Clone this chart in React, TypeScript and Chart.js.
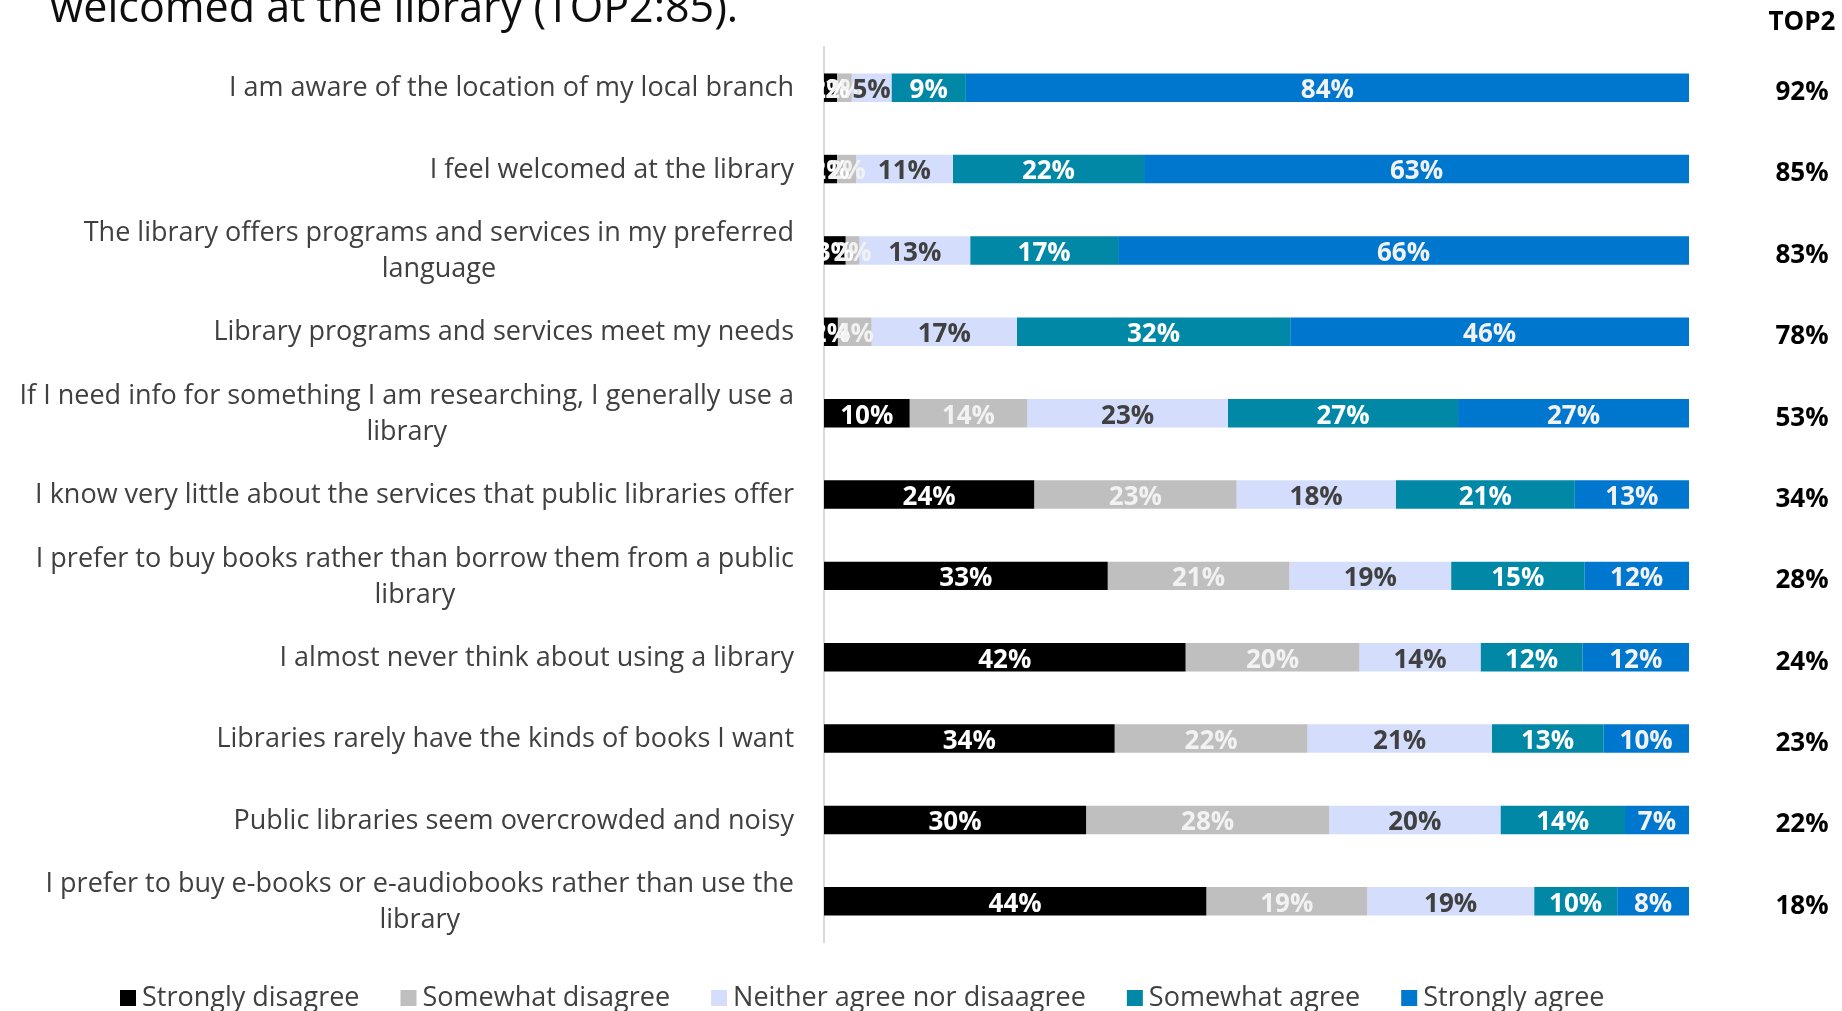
import React, { useEffect, useRef } from "react";
import { Chart, registerables } from "chart.js";

Chart.register(...registerables);

const titleText = "welcomed at the library (TOP2:85).";

const categories: string[][] = [
  ["I am aware of the location of my local branch"],
  ["I feel welcomed at the library"],
  ["The library offers programs and services in my preferred", "language"],
  ["Library programs and services meet my needs"],
  ["If I need info for something I am researching, I generally use a", "library"],
  ["I know very little about the services that public libraries offer"],
  ["I prefer to buy books rather than borrow them from a public", "library"],
  ["I almost never think about using a library"],
  ["Libraries rarely have the kinds of books I want"],
  ["Public libraries seem overcrowded and noisy"],
  ["I prefer to buy e-books or e-audiobooks rather than use the", "library"],
];

const seriesNames = [
  "Strongly disagree",
  "Somewhat disagree",
  "Neither agree nor disaagree",
  "Somewhat agree",
  "Strongly agree",
];

const stronglyDisagree = [1.5, 1.5, 2.5, 1.6, 9.9, 24.3, 32.8, 41.8, 33.6, 30.3, 44.2];
const somewhatDisagree = [1.7, 2.2, 1.6, 3.9, 13.6, 23.4, 21.0, 20.1, 22.3, 28.1, 18.6];
const neither = [4.6, 11.2, 12.8, 16.8, 23.2, 18.4, 18.7, 14.0, 21.3, 19.8, 19.3];
const somewhatAgree = [8.6, 22.1, 17.1, 31.6, 26.6, 20.7, 15.4, 11.8, 12.9, 14.4, 9.6];
const stronglyAgree = [83.6, 63.0, 66.0, 46.1, 26.7, 13.2, 12.1, 12.3, 9.9, 7.4, 8.3];

const top2Header = "TOP2";
const top2Values = [92, 85, 83, 78, 53, 34, 28, 24, 23, 22, 18];

const seriesColors = ["#000000", "#BFBFBF", "#D4DEFC", "#0088A6", "#0077CE"];
const labelColors = ["#FFFFFF", "#F2F2F2", "#404040", "#FFFFFF", "#F2F2F2"];

const FONT = '"Open Sans", "Noto Sans", sans-serif';

const overlayPlugin = {
  id: "overlay",
  afterDatasetsDraw(chart: any) {
    const ctx = chart.ctx as CanvasRenderingContext2D;
    ctx.save();
    ctx.font = `bold 26px ${FONT}`;
    ctx.textAlign = "center";
    ctx.textBaseline = "middle";
    chart.data.datasets.forEach((ds: any, di: number) => {
      const meta = chart.getDatasetMeta(di);
      meta.data.forEach((el: any, i: number) => {
        const v = ds.data[i];
        const cx = (el.x + el.base) / 2;
        ctx.fillStyle = labelColors[di];
        ctx.fillText(`${Math.round(v)}%`, cx, el.y + 3);
      });
    });
    ctx.restore();
  },
  afterDraw(chart: any) {
    const ctx = chart.ctx as CanvasRenderingContext2D;
    const yScale = chart.scales.y;
    const area = chart.chartArea;
    ctx.save();

    // title (second line, top cut off)
    ctx.font = `43px ${FONT}`;
    ctx.fillStyle = "#0D0D0D";
    ctx.textAlign = "left";
    ctx.textBaseline = "alphabetic";
    ctx.fillText(titleText, 50, 22);

    // category labels
    ctx.font = `27px ${FONT}`;
    ctx.fillStyle = "#404040";
    ctx.textBaseline = "middle";
    ctx.textAlign = "center";
    const rightEdge = area.left - 30;
    const lineH = 36;
    categories.forEach((lines, i) => {
      const cy = yScale.getPixelForValue(i);
      const w = Math.max(...lines.map((l) => ctx.measureText(l).width));
      const cx = rightEdge - w / 2;
      const startY = cy - ((lines.length - 1) * lineH) / 2 + 1;
      lines.forEach((l, li) => ctx.fillText(l, cx, startY + li * lineH));
    });

    // TOP2 column
    const colX = 1802;
    ctx.font = `bold 26px ${FONT}`;
    ctx.fillStyle = "#000000";
    ctx.fillText(top2Header, colX, 23);
    top2Values.forEach((v, i) => {
      const cy = yScale.getPixelForValue(i);
      ctx.fillText(`${v}%`, colX, cy + 5);
    });

    // legend
    ctx.font = `27px ${FONT}`;
    ctx.textAlign = "left";
    let x = 120;
    const ly = 998;
    seriesNames.forEach((name, i) => {
      ctx.fillStyle = seriesColors[i];
      ctx.fillRect(x, ly - 8, 16, 16);
      ctx.fillStyle = "#404040";
      ctx.fillText(name, x + 22, ly);
      x += 22 + ctx.measureText(name).width + 41;
    });

    ctx.restore();
  },
};

export default function App() {
  const canvasRef = useRef<HTMLCanvasElement | null>(null);

  useEffect(() => {
    if (!canvasRef.current) return;
    const seriesData = [stronglyDisagree, somewhatDisagree, neither, somewhatAgree, stronglyAgree];
    const chart = new Chart(canvasRef.current, {
      type: "bar",
      data: {
        labels: categories.map((c) => c.join(" ")),
        datasets: seriesData.map((d, i) => ({
          label: seriesNames[i],
          data: d,
          backgroundColor: seriesColors[i],
          borderWidth: 0,
          barPercentage: 1,
          categoryPercentage: 0.35,
        })),
      },
      options: {
        indexAxis: "y",
        responsive: false,
        maintainAspectRatio: false,
        animation: false,
        layout: { padding: { top: 47, bottom: 69, right: 153, left: 0 } },
        scales: {
          x: { stacked: true, min: 0, max: 100, display: false },
          y: {
            stacked: true,
            grid: { display: false, drawTicks: false },
            border: { display: true, color: "#D9D9D9", width: 2 },
            ticks: { display: false },
            afterFit: (s: any) => {
              s.width = 824;
            },
          },
        },
        plugins: {
          legend: { display: false },
          tooltip: { enabled: false },
        },
      },
      plugins: [overlayPlugin],
    } as any);
    return () => chart.destroy();
  }, []);

  return (
    <div
      style={{
        position: "fixed",
        left: 0,
        top: 0,
        width: 1842,
        height: 1011,
        background: "#FFFFFF",
      }}
    >
      <canvas ref={canvasRef} width={1842} height={1011} style={{ display: "block" }} />
    </div>
  );
}
